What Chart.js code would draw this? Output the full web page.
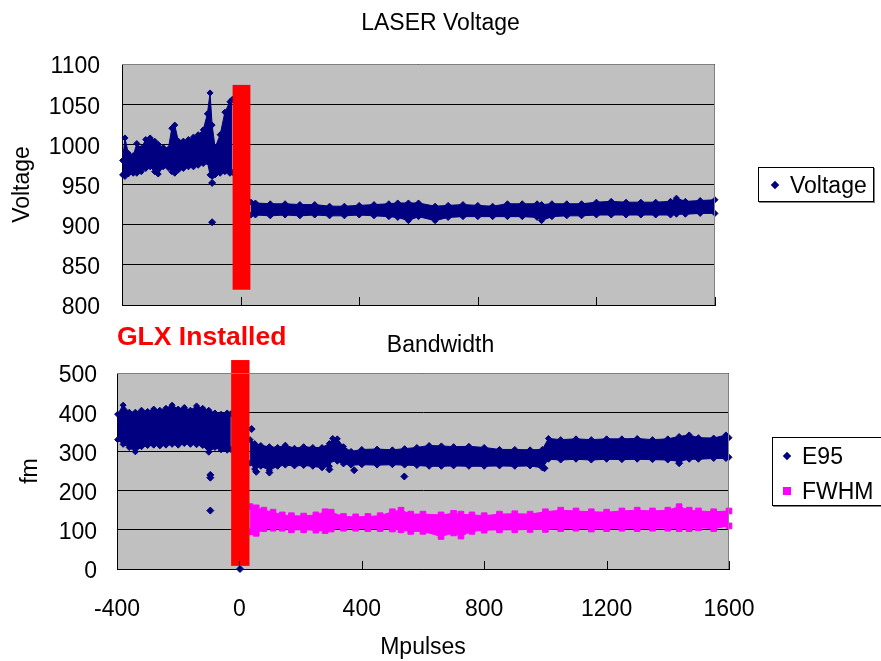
<!DOCTYPE html>
<html>
<head>
<meta charset="utf-8">
<script src="https://cdn.jsdelivr.net/npm/chart.js@4.4.1/dist/chart.umd.min.js"></script>
<style>
  body { margin: 0; background: #fff; overflow: hidden; font-family: "Liberation Sans", Arial, sans-serif; }
  #wrap { position: relative; width: 881px; height: 661px; overflow: hidden; }
  canvas { position: absolute; left: 0; }
  #voltChart { top: 0; }
  #bandChart { top: 330px; }
  .legend { position: absolute; box-sizing: border-box; border: 1px solid #000; box-shadow: 1px 1px 0 #808080; background: #fff; color: #000; font-size: 23px; }
  .legend .row { position: absolute; height: 26px; line-height: 26px; white-space: nowrap; }
  .legend .mark { position: absolute; top: 50%; }
  .diamond { width: 6px; height: 6px; margin: -3px 0 0 -3px; transform: rotate(45deg); background: #000080; }
  .square { width: 8px; height: 8px; margin: -4px 0 0 -4px; background: #ff00ff; }
  .legend .label { position: absolute; left: 15px; top: 0; }
  #glx { position: absolute; left: 117px; top: 321px; line-height: 30px; font-size: 26.5px; font-weight: bold; color: #ff0000; }
</style>
</head>
<body>
<div id="wrap">
  <canvas id="voltChart" width="881" height="330"></canvas>
  <canvas id="bandChart" width="881" height="331"></canvas>
  <div id="glx"></div>
  <div class="legend" id="voltLegend" style="left:758px; top:167px; width:116px; height:35px;"></div>
  <div class="legend" id="bandLegend" style="left:772px; top:437px; width:130px; height:69px;"></div>
</div>
<script>
const NAVY = "#000080";
const MAGENTA = "#ff00ff";
const FONT = '"Liberation Sans", Arial, sans-serif';

// x axis (Mpulses)
const xMin = -400, xMax = 1600, xStep = 400;

// GLX installation marker (red bar), in Mpulses
const glxFrom = -27, glxTo = 33;
const glxLabel = "GLX Installed";

// LASER Voltage: point cloud before GLX, low and high edge
const voltPreX    = [-398, -390, -379, -362, -350, -335, -320, -305, -290, -278, -261, -244, -232, -222, -210, -193, -176, -159, -143, -126, -112, -103, -96, -86, -69, -53, -36, -28];
const voltPreLow  = [962, 960, 963, 964, 964, 966, 970, 972, 966, 963, 972, 971, 966, 964, 968, 970, 972, 972, 974, 976, 978, 962, 960, 962, 964, 966, 964, 965];
const voltPreHigh = [980, 1008, 989, 986, 1001, 995, 1006, 1008, 1004, 1000, 996, 994, 1020, 1024, 1004, 1004, 1006, 1009, 1012, 1018, 1038, 1064, 1024, 996, 1012, 1040, 1053, 1056];

// LASER Voltage after GLX
const voltPostX    = [35, 50, 100, 150, 200, 250, 300, 350, 400, 450, 500, 530, 566, 600, 656, 700, 750, 800, 850, 900, 950, 1000, 1015, 1050, 1100, 1150, 1200, 1250, 1300, 1350, 1400, 1450, 1470, 1500, 1550, 1600];
const voltPostLow  = [912, 912, 911, 912, 911, 912, 911, 911, 912, 911, 910, 909, 905, 910, 905, 909, 910, 910, 910, 910, 910, 909, 905, 910, 911, 911, 912, 912, 912, 912, 912, 912, 913, 913, 914, 914];
const voltPostHigh = [928, 927, 926, 926, 925, 925, 923, 923, 924, 925, 926, 927, 927, 927, 923, 924, 925, 924, 923, 926, 926, 926, 925, 926, 926, 926, 928, 929, 928, 928, 928, 929, 933, 929, 930, 931];

// single stray voltage points
const voltOutX = [-96, -96];
const voltOutY = [952, 903];
const voltBarY = [819, 1074];

// Bandwidth E95 before GLX
const e95PreX    = [-398, -380, -360, -340, -320, -300, -280, -260, -240, -220, -200, -180, -160, -140, -120, -100, -80, -60, -40, -28];
const e95PreLow  = [330, 318, 310, 299, 312, 315, 316, 314, 316, 318, 316, 320, 318, 317, 315, 298, 310, 304, 303, 305];
const e95PreHigh = [395, 418, 400, 400, 405, 402, 408, 405, 410, 418, 408, 412, 405, 416, 410, 405, 398, 395, 398, 396];

// E95 after GLX
const e95PostX    = [35, 50, 70, 98, 125, 150, 180, 210, 240, 270, 294, 305, 320, 340, 365, 400, 450, 500, 540, 580, 620, 660, 700, 750, 800, 850, 900, 950, 990, 1010, 1050, 1100, 1150, 1200, 1250, 1300, 1350, 1400, 1437, 1470, 1500, 1550, 1590, 1600];
const e95PostLow  = [270, 255, 262, 252, 262, 265, 263, 264, 262, 258, 262, 280, 275, 268, 265, 266, 265, 266, 265, 264, 262, 262, 263, 262, 262, 263, 262, 263, 258, 280, 278, 280, 278, 280, 279, 280, 279, 278, 275, 280, 280, 282, 282, 285];
const e95PostHigh = [330, 320, 315, 312, 310, 316, 308, 312, 310, 310, 320, 333, 332, 312, 300, 305, 306, 304, 307, 310, 315, 314, 312, 313, 310, 305, 305, 304, 305, 333, 330, 332, 330, 332, 332, 333, 330, 332, 338, 342, 335, 334, 342, 335];

// stray E95 points
const e95OutX = [-95, -95, -95, 2, 40, 55, 98, 294, 375, 539, 997, 1437];
const e95OutY = [240, 233, 149, 0, 357, 248, 246, 254, 252, 236, 257, 270];

// FWHM (after GLX only)
const fwhmX    = [35, 55, 80, 110, 140, 170, 210, 250, 280, 300, 340, 380, 420, 460, 500, 528, 560, 600, 659, 700, 724, 760, 800, 850, 900, 950, 1000, 1050, 1100, 1150, 1200, 1250, 1300, 1350, 1400, 1437, 1470, 1500, 1550, 1600];
const fwhmLow  = [95, 91, 103, 104, 104, 100, 100, 99, 98, 102, 104, 104, 103, 103, 102, 100, 96, 96, 83, 92, 84, 96, 99, 100, 100, 101, 101, 103, 104, 102, 103, 104, 103, 104, 104, 103, 103, 105, 103, 110];
const fwhmHigh = [159, 156, 150, 145, 138, 136, 135, 138, 146, 145, 134, 133, 134, 136, 146, 150, 140, 140, 138, 142, 140, 138, 136, 140, 141, 140, 146, 150, 148, 146, 145, 148, 150, 148, 150, 159, 150, 148, 146, 148];
const bandBarY = [8, 533];

function pts(xs, ys) {
  return xs.map((x, i) => ({ x: x, y: ys[i] }));
}

// a point cloud drawn as its two edges with the space between filled
function band(xs, low, high, color, style, r) {
  const common = {
    borderColor: color, backgroundColor: color, pointStyle: style,
    pointRadius: r, borderWidth: 1, tension: 0, clip: false,
  };
  return [
    Object.assign({ data: pts(xs, low), fill: false }, common),
    Object.assign({ data: pts(xs, high), fill: "-1" }, common),
  ];
}

function strays(xs, ys, color) {
  return {
    data: pts(xs, ys), showLine: false, pointStyle: "rectRot", pointRadius: 3.5,
    borderColor: color, backgroundColor: color, clip: false,
  };
}

// grey plot area, frame, inside tick marks and the red GLX bar
const plotFrame = {
  id: "plotFrame",
  beforeDraw(chart) {
    const { ctx, chartArea: a } = chart;
    ctx.save();
    ctx.fillStyle = "#c0c0c0";
    ctx.fillRect(a.left, a.top, a.right - a.left, a.bottom - a.top);
    ctx.restore();
  },
  afterDatasetsDraw(chart, args, opts) {
    const { ctx, chartArea: a, scales } = chart;
    ctx.save();
    // red bar
    const x0 = scales.x.getPixelForValue(glxFrom);
    const x1 = scales.x.getPixelForValue(glxTo);
    const y0 = scales.y.getPixelForValue(opts.bar[0]);
    const y1 = scales.y.getPixelForValue(opts.bar[1]);
    ctx.fillStyle = "#ff0000";
    ctx.fillRect(x0, y1, x1 - x0, y0 - y1);
    // frame top / right
    ctx.strokeStyle = "#808080";
    ctx.lineWidth = 1;
    ctx.beginPath();
    ctx.moveTo(a.left, a.top + 0.5);
    ctx.lineTo(a.right - 0.5, a.top + 0.5);
    ctx.lineTo(a.right - 0.5, a.bottom);
    ctx.stroke();
    // tick marks pointing into the plot
    ctx.strokeStyle = "#000";
    ctx.beginPath();
    scales.x.ticks.forEach((t) => {
      const px = Math.round(scales.x.getPixelForValue(t.value)) + 0.5;
      ctx.moveTo(px, a.bottom);
      ctx.lineTo(px, a.bottom - 8);
    });
    ctx.stroke();
    ctx.restore();
  },
};

Chart.defaults.font.family = FONT;
Chart.defaults.color = "#000";

const plain = (v) => String(v);

function makeChart(id, cfg) {
  return new Chart(document.getElementById(id), {
    type: "line",
    data: { datasets: cfg.datasets },
    options: {
      responsive: false,
      animation: false,
      events: [],
      layout: { padding: 0 },
      plugins: {
        legend: { display: false },
        tooltip: { enabled: false },
        title: {
          display: true, text: cfg.title, color: "#000",
          font: { size: 23, weight: "normal" }, padding: cfg.titlePad,
        },
        plotFrame: { bar: cfg.bar },
      },
      scales: {
        x: {
          type: "linear", min: xMin, max: xMax,
          ticks: { stepSize: xStep, display: cfg.xLabels, padding: 19, font: { size: 23 }, color: "#000", callback: plain },
          grid: { display: false },
          border: { color: "#000" },
          title: { display: !!cfg.xTitle, text: cfg.xTitle, font: { size: 23 }, color: "#000", padding: { top: 0, bottom: 0 } },
          afterFit: (s) => { s.height = cfg.xHeight; },
        },
        y: {
          min: cfg.yMin, max: cfg.yMax,
          ticks: { stepSize: cfg.yStep, padding: 0, labelOffset: 3, font: { size: 23 }, color: "#000", callback: plain },
          grid: { color: "#000", drawTicks: true, tickLength: cfg.yPad, tickColor: "rgba(0,0,0,0)" },
          border: { color: "#000" },
          title: { display: true, text: cfg.yTitle, font: { size: 23 }, color: "#000", padding: { top: cfg.yTitlePad, bottom: 0 } },
          afterFit: (s) => { s.width = cfg.yWidth; },
        },
        // empty space on the right where the legend sits
        side: {
          type: "linear", position: "right", display: true,
          ticks: { display: false }, grid: { display: false }, border: { display: false },
          afterFit: (s) => { s.width = cfg.sideWidth; },
        },
      },
    },
    plugins: [plotFrame],
  });
}

makeChart("voltChart", {
  datasets: [
    ...band(voltPreX, voltPreLow, voltPreHigh, NAVY, "rectRot", 3),
    ...band(voltPostX, voltPostLow, voltPostHigh, NAVY, "rectRot", 3),
    strays(voltOutX, voltOutY, NAVY),
  ],
  title: "LASER Voltage",
  titlePad: { top: 9.5, bottom: 26.9 },
  sideWidth: 166,
  bar: voltBarY,
  xLabels: false, xTitle: "", xHeight: 25,
  yMin: 800, yMax: 1100, yStep: 50, yPad: 22,
  yTitle: "Voltage", yTitlePad: 9, yWidth: 122,
});

makeChart("bandChart", {
  datasets: [
    ...band(e95PreX, e95PreLow, e95PreHigh, NAVY, "rectRot", 3),
    ...band(e95PostX, e95PostLow, e95PostHigh, NAVY, "rectRot", 3),
    ...band(fwhmX, fwhmLow, fwhmHigh, MAGENTA, "rect", 4),
    strays(e95OutX, e95OutY, NAVY),
  ],
  title: "Bandwidth",
  titlePad: { top: 1.5, bottom: 13.9 },
  sideWidth: 152,
  bar: bandBarY,
  xLabels: true, xTitle: "Mpulses", xHeight: 92,
  yMin: 0, yMax: 500, yStep: 100, yPad: 20,
  yTitle: "fm", yTitlePad: 17, yWidth: 117,
});

// legends and the GLX note
function legendRow(box, top, left, markClass, text) {
  const row = document.createElement("div");
  row.className = "row";
  row.style.top = top + "px";
  row.style.left = left + "px";
  row.innerHTML = `<span class="mark ${markClass}"></span><span class="label">${text}</span>`;
  box.appendChild(row);
}
legendRow(document.getElementById("voltLegend"), 4, 16, "diamond", "Voltage");
legendRow(document.getElementById("bandLegend"), 5, 14, "diamond", "E95");
legendRow(document.getElementById("bandLegend"), 40, 14, "square", "FWHM");
document.getElementById("glx").innerText = glxLabel;
</script>
</body>
</html>
